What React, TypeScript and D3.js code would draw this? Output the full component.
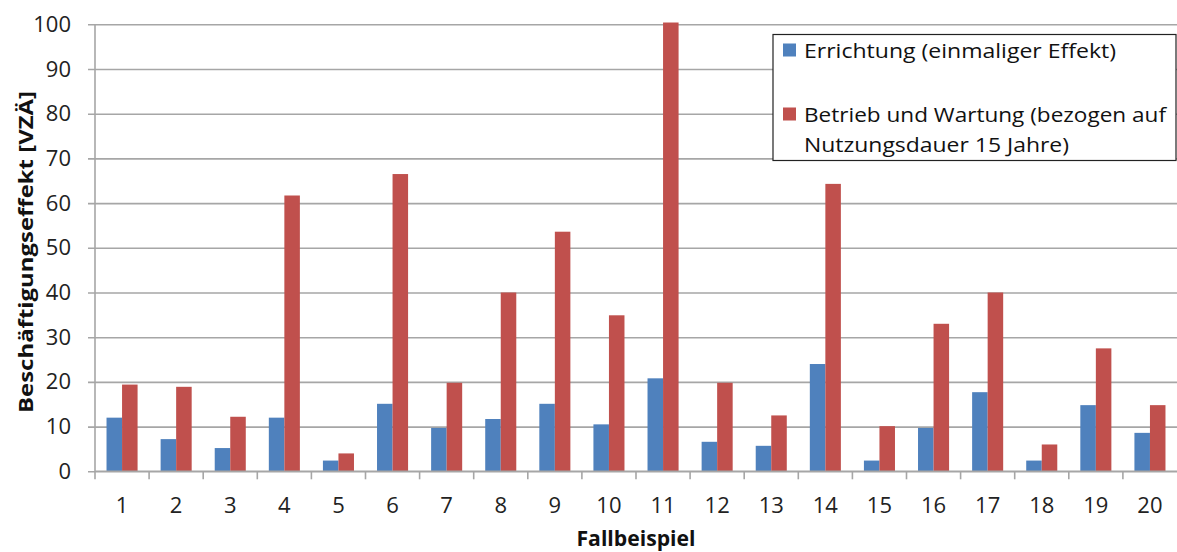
import React, { useRef, useEffect } from "react";
import * as d3 from "d3";

const cases = ["1", "2", "3", "4", "5", "6", "7", "8", "9", "10", "11", "12", "13", "14", "15", "16", "17", "18", "19", "20"];

// Errichtung (einmaliger Effekt)
const errichtung = [12.0, 7.2, 5.2, 12.0, 2.4, 15.1, 9.7, 11.7, 15.1, 10.5, 20.8, 6.6, 5.7, 24.0, 2.4, 9.7, 17.7, 2.4, 14.8, 8.6];
// Betrieb und Wartung (bezogen auf Nutzungsdauer 15 Jahre)
const betrieb = [19.4, 18.9, 12.2, 61.7, 4.0, 66.5, 19.8, 40.0, 53.6, 34.9, 100.4, 19.8, 12.5, 64.3, 10.1, 33.0, 40.0, 6.0, 27.5, 14.8];

const seriesColors = ["#4F81BD", "#C0504D"];
const yTicks = [0, 10, 20, 30, 40, 50, 60, 70, 80, 90, 100];

const width = 1177;
const height = 552;
const font = "'Open Sans', sans-serif";

export default function App() {
  const svgRef = useRef<SVGSVGElement>(null);

  useEffect(() => {
    if (!svgRef.current) return;
    const svg = d3.select(svgRef.current);
    svg.selectAll("*").remove();

    const margin = { top: 24.3, right: 0, bottom: 80.7, left: 95 };
    const plotBottom = height - margin.bottom;

    const x = d3.scaleBand<string>().domain(cases).range([margin.left, width - margin.right]);
    const bw = x.bandwidth();
    const barW = bw * 0.287;
    const xSub = d3.scaleBand<number>().domain([0, 1]).range([bw / 2 - barW, bw / 2 + barW]);
    const y = d3.scaleLinear().domain([0, 100]).range([plotBottom, margin.top]);

    // gridlines + y ticks
    const yAxis = d3.axisLeft(y).tickValues(yTicks).tickSize(-(width - margin.left)).tickSizeOuter(0).tickPadding(24);
    const gy = svg.append("g").attr("transform", `translate(${margin.left},0)`).call(yAxis);
    gy.select(".domain").remove();
    gy.selectAll(".tick line").attr("stroke", "#a6a6a6").attr("stroke-width", 1.6).attr("x1", -7);
    gy.selectAll(".tick text").attr("font-family", font).attr("font-size", 22).attr("fill", "#222");

    // bars
    const data = cases.map((c, i) => ({ c, vals: [errichtung[i], betrieb[i]] }));
    const groups = svg.selectAll(".grp").data(data).join("g").attr("transform", (d) => `translate(${x(d.c)},0)`);
    groups
      .selectAll("rect")
      .data((d) => d.vals.map((v, k) => ({ v, k })))
      .join("rect")
      .attr("x", (d) => xSub(d.k)!)
      .attr("width", xSub.bandwidth())
      .attr("y", (d) => y(d.v))
      .attr("height", (d) => plotBottom - y(d.v))
      .attr("fill", (d) => seriesColors[d.k]);

    // x axis
    svg.append("line")
      .attr("x1", margin.left).attr("x2", width)
      .attr("y1", plotBottom).attr("y2", plotBottom)
      .attr("stroke", "#a6a6a6").attr("stroke-width", 1.6);
    svg.append("line")
      .attr("x1", margin.left).attr("x2", margin.left)
      .attr("y1", margin.top).attr("y2", plotBottom + 8)
      .attr("stroke", "#a6a6a6").attr("stroke-width", 1.6);
    svg.selectAll(".xtick").data(cases.slice(1)).join("line")
      .attr("x1", (d) => x(d)!).attr("x2", (d) => x(d)!)
      .attr("y1", plotBottom).attr("y2", plotBottom + 8)
      .attr("stroke", "#a6a6a6").attr("stroke-width", 1.6);
    svg.selectAll(".xlab").data(cases).join("text")
      .attr("x", (d) => x(d)! + bw / 2)
      .attr("y", plotBottom + 42)
      .attr("text-anchor", "middle")
      .attr("font-family", font).attr("font-size", 22).attr("fill", "#222")
      .text((d) => d);

    // axis titles
    svg.append("text")
      .attr("x", 636).attr("y", 546)
      .attr("text-anchor", "middle")
      .attr("font-family", font).attr("font-size", 21).attr("font-weight", "bold").attr("fill", "#111")
      .attr("textLength", 119).attr("lengthAdjust", "spacingAndGlyphs")
      .text("Fallbeispiel");
    svg.append("text")
      .attr("transform", "translate(33,252) rotate(-90)")
      .attr("text-anchor", "middle")
      .attr("font-family", font).attr("font-size", 20).attr("font-weight", "bold").attr("fill", "#111")
      .attr("textLength", 322).attr("lengthAdjust", "spacingAndGlyphs")
      .text("Beschäftigungseffekt [VZÄ]");

    // legend
    const lg = svg.append("g").attr("transform", "translate(773,34.5)");
    lg.append("rect").attr("width", 403).attr("height", 126).attr("fill", "#fff").attr("stroke", "#222").attr("stroke-width", 1.2);
    const lines = [
      [{ t: "Errichtung (einmaliger Effekt)", w: 312 }],
      [{ t: "Betrieb und Wartung (bezogen auf", w: 362 }, { t: "Nutzungsdauer 15 Jahre)", w: 265 }],
    ];
    const rowY = [23, 87];
    lines.forEach((ls, k) => {
      lg.append("rect").attr("x", 10).attr("y", rowY[k] - 14).attr("width", 13).attr("height", 13).attr("fill", seriesColors[k]);
      ls.forEach((l, j) => {
        lg.append("text")
          .attr("x", 31).attr("y", rowY[k] + j * 30)
          .attr("font-family", font).attr("font-size", 20.5).attr("fill", "#111")
          .attr("textLength", l.w).attr("lengthAdjust", "spacingAndGlyphs")
          .text(l.t);
      });
    });
  }, []);

  return (
    <div style={{ position: "absolute", left: 0, top: 0, background: "#fff" }}>
      <svg ref={svgRef} width={width} height={height}></svg>
    </div>
  );
}
